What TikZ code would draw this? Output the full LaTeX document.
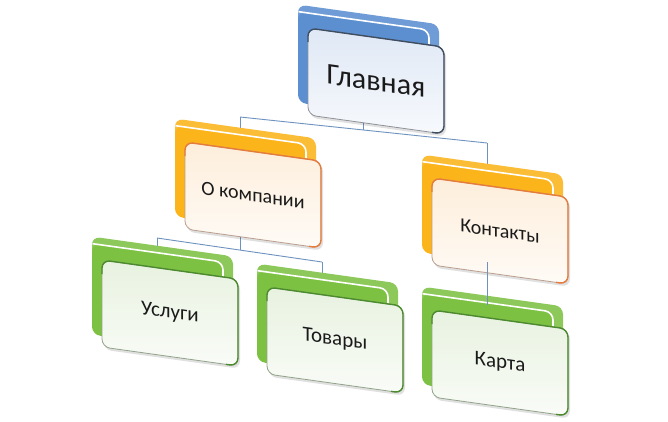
\documentclass[tikz,border=0pt]{standalone}
\usepackage{fontspec}
\setmainfont{Carlito}
\definecolor{blueback}{HTML}{5C8FD0}
\definecolor{bluetint}{HTML}{DFE8F5}
\definecolor{blueedge}{HTML}{3E4D62}
\definecolor{orangeback}{HTML}{FBB41A}
\definecolor{orangetint}{HTML}{FDEEDB}
\definecolor{orangeedge}{HTML}{E57C3C}
\definecolor{greenback}{HTML}{7DC143}
\definecolor{greentint}{HTML}{E8F2E0}
\definecolor{greenedge}{HTML}{4C8A2E}
\definecolor{linkc}{HTML}{6E92BF}
\definecolor{textc}{HTML}{1A1A1A}
\tikzset{
  link/.style={draw=linkc, line width=0.9},
  boxtext/.style={text=textc, transform shape, inner sep=0},
}
\newcommand{\tierbox}[8]{%
\begin{scope}[shift={(#2,#3)}, yslant=-0.14]
  \fill[#4!88!white, rounded corners=8] (-10,-22) rectangle (131,70);
  \fill[#4, rounded corners=8] (-10,-15) rectangle (121,76);
  \draw[white, line width=1.6, rounded corners=8] (-9.5,-15) -- (121,-15) -- (121,10);
  \fill[black, opacity=0.12, rounded corners=8] (1.5,2) rectangle (138,89.5);
  \shade[top color=#5, bottom color=#5!25!white, rounded corners=8] (0,0) rectangle (136,87);
  \draw[#6!35!gray!75, line width=0.8, rounded corners=8] (0,0) rectangle (136,87);
  \draw[#6, line width=1.4, rounded corners=8] (0,14) -- (0,0) -- (136,0) -- (136,87) -- (124,87);
  \node[boxtext, font={#8}] (#1) at (68,43.5) {#7};
\end{scope}}
\begin{document}
\begin{tikzpicture}[x=1pt, y=-1pt]
\fill[white] (0,0) rectangle (668,421);
\useasboundingbox (0,0) rectangle (668,421);
% connector points
\coordinate (pmain) at (363,112);
\coordinate (j1) at (363,130);
\coordinate (bL) at (240,117);
\coordinate (bR) at (487,143);
\coordinate (pkomp) at (240,135);
\coordinate (pkont) at (487,172);
\coordinate (pkomp2) at (240,228);
\coordinate (j2) at (240,250);
\coordinate (cL) at (157,238);
\coordinate (cR) at (322,262);
\coordinate (pusl) at (157,256);
\coordinate (ptov) at (322,282);
\coordinate (pkont2) at (487,262);
\coordinate (pkarta) at (487,305);
% connectors
\draw[link] (pmain) -- (j1);
\draw[link] (bL) -- (bR);
\draw[link] (bL) -- (pkomp);
\draw[link] (bR) -- (pkont);
\draw[link] (pkomp2) -- (j2);
\draw[link] (cL) -- (cR);
\draw[link] (cL) -- (pusl);
\draw[link] (cR) -- (ptov);
% boxes
\tierbox{main}{308}{28}{blueback}{bluetint}{blueedge}{Главная}{\fontsize{30}{36}\selectfont}
\tierbox{komp}{185}{142}{orangeback}{orangetint}{orangeedge}{О компании}{\fontsize{20}{24}\selectfont}
\tierbox{kont}{432}{178}{orangeback}{orangetint}{orangeedge}{Контакты}{\fontsize{20}{24}\selectfont}
\tierbox{usl}{102}{260}{greenback}{greentint}{greenedge}{Услуги}{\fontsize{21}{25}\selectfont}
\tierbox{tov}{267}{287}{greenback}{greentint}{greenedge}{Товары}{\fontsize{21}{25}\selectfont}
\tierbox{karta}{432}{310}{greenback}{greentint}{greenedge}{Карта}{\fontsize{21}{25}\selectfont}
\draw[link] (pkont2) -- (pkarta);
\end{tikzpicture}
\end{document}
